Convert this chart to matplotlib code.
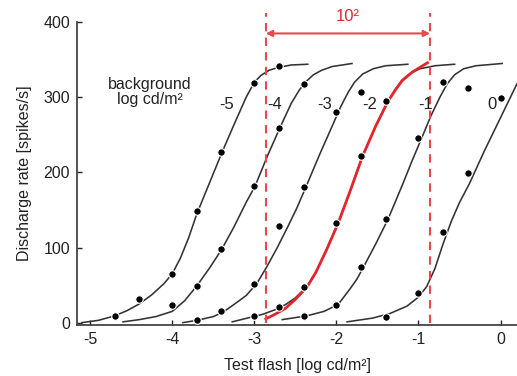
import matplotlib
matplotlib.use('Agg')
import matplotlib.pyplot as plt

# data (x: test flash log cd/m2, y: spikes/s)
bg_labels = ['-5', '-4', '-3', '-2', '-1', '0']
label_x = [-3.34, -2.75, -2.14, -1.59, -0.91, -0.11]
label_y = [290, 290, 290, 290, 290, 290]

# measured points
dot_x_m5 = [-4.70, -4.40, -4.00, -3.70, -3.40, -3.00, -2.70]
dot_y_m5 = [9, 31, 65, 149, 227, 319, 342]
dot_x_m4 = [-4.00, -3.70, -3.40, -3.00, -2.70, -2.40]
dot_y_m4 = [24, 49, 98, 182, 259, 318]
dot_x_m3 = [-3.70, -3.40, -3.00, -2.70, -2.40, -2.00, -1.70]
dot_y_m3 = [4, 15, 52, 128, 181, 280, 307]
dot_x_m2 = [-3.00, -2.70, -2.40, -2.00, -1.70, -1.40]
dot_y_m2 = [9, 21, 48, 133, 222, 295]
dot_x_m1 = [-2.40, -2.00, -1.70, -1.40, -1.00, -0.70, -0.40]
dot_y_m1 = [9, 23, 74, 138, 246, 320, 312]
dot_x_0 = [-1.40, -1.00, -0.70, -0.40, 0.00]
dot_y_0 = [8, 40, 121, 199, 299]

# fitted curves
fit_x_m5 = [-5.10, -4.90, -4.70, -4.55, -4.40, -4.25, -4.10, -4.00, -3.90, -3.80, -3.70,
            -3.55, -3.40, -3.25, -3.10, -3.00, -2.92, -2.82, -2.70, -2.55, -2.35]
fit_y_m5 = [0, 3, 9, 16, 25, 37, 52, 65, 86, 113, 145,
            185, 225, 263, 300, 320, 329, 336, 340, 343, 344]
fit_x_m4 = [-4.60, -4.40, -4.20, -4.00, -3.85, -3.70, -3.55, -3.40, -3.25, -3.10,
            -2.99, -2.84, -2.69, -2.55, -2.45, -2.37, -2.28, -2.18, -2.05, -1.81]
fit_y_m4 = [1, 4, 8, 15, 29, 49, 72, 97, 127, 160,
            182, 222, 259, 292, 310, 321, 330, 336, 341, 345]
fit_x_m3 = [-3.87, -3.70, -3.50, -3.38, -3.25, -3.10, -2.97, -2.85, -2.72, -2.60, -2.48,
            -2.37, -2.20, -2.05, -1.95, -1.86, -1.78, -1.68, -1.55, -1.40, -1.13]
fit_y_m3 = [0, 3, 8, 14, 24, 36, 52, 74, 100, 126, 153,
            181, 225, 262, 287, 306, 320, 331, 338, 342, 344]
fit_x_m2 = [-3.27, -3.05, -2.90, -2.75, -2.62, -2.50, -2.36, -2.25, -2.12, -1.98,
            -1.84, -1.68, -1.52, -1.37, -1.28, -1.20, -1.10, -0.98, -0.80, -0.56]
fit_y_m2 = [1, 7, 11, 17, 24, 33, 48, 67, 97, 133,
            173, 222, 262, 295, 311, 323, 332, 338, 342, 344]
fit_x_m1 = [-2.66, -2.36, -2.15, -1.98, -1.84, -1.75, -1.67, -1.52, -1.37, -1.19,
            -1.08, -0.96, -0.85, -0.74, -0.65, -0.56, -0.45, -0.30, 0.02]
fit_y_m1 = [4, 9, 15, 24, 44, 58, 74, 105, 138, 185,
            215, 246, 275, 300, 318, 330, 338, 342, 345]
fit_x_0 = [-1.87, -1.56, -1.35, -1.14, -1.00, -0.90, -0.80, -0.70, -0.60, -0.50,
           -0.38, -0.20, 0.00, 0.20]
fit_y_0 = [1, 6, 12, 22, 34, 48, 72, 105, 135, 160,
           185, 228, 273, 318]

# highlighted red curve (background -2)
red_x = [-2.86, -2.75, -2.62, -2.50, -2.36, -2.25, -2.12, -1.98, -1.84, -1.68,
         -1.52, -1.37, -1.28, -1.20, -1.07, -0.89]
red_y = [5, 11, 19, 31, 47, 67, 97, 132, 173, 222,
         262, 295, 310, 322, 334, 346]

# two-log-unit range marker
range_x = [-2.86, -0.86]

plt.rcParams['font.family'] = ['Liberation Sans', 'DejaVu Sans']

fig = plt.figure(figsize=(5.17, 3.76), dpi=100)
ax = fig.add_axes([0.149, 0.136, 0.851, 0.805])

line_col = '#333333'
red = '#e3262b'
red_dash = '#e8474b'

fits = [(fit_x_m5, fit_y_m5), (fit_x_m4, fit_y_m4), (fit_x_m3, fit_y_m3),
        (fit_x_m2, fit_y_m2), (fit_x_m1, fit_y_m1), (fit_x_0, fit_y_0)]
dots = [(dot_x_m5, dot_y_m5), (dot_x_m4, dot_y_m4), (dot_x_m3, dot_y_m3),
        (dot_x_m2, dot_y_m2), (dot_x_m1, dot_y_m1), (dot_x_0, dot_y_0)]

for fx, fy in fits:
    ax.plot(fx, fy, color=line_col, lw=1.15, solid_joinstyle='round', zorder=2)

ax.plot(red_x, red_y, color=red, lw=2.0, solid_joinstyle='round', zorder=3)

for dx, dy in dots:
    ax.plot(dx, dy, 'o', color='black', ms=5.4, mec='white', mew=0.8, zorder=4)

# dashed verticals and arrow
for xv in range_x:
    ax.plot([xv, xv], [0, 412], color=red_dash, lw=1.5, ls=(0, (4, 3)),
            clip_on=False, zorder=3)
ax.annotate('', xy=(range_x[0], 385), xytext=(range_x[1], 385),
            arrowprops=dict(arrowstyle='<|-|>', color=red_dash, lw=1.5,
                            mutation_scale=9, shrinkA=0, shrinkB=0),
            annotation_clip=False)
ax.text(sum(range_x) / 2, 407, '10²', color=red, fontsize=12,
        ha='center', va='center', clip_on=False)

for lab, lx, ly in zip(bg_labels, label_x, label_y):
    ax.text(lx, ly, lab, fontsize=12, ha='center', va='center', color='#222222')

ax.text(-4.27, 307, 'background\nlog cd/m²', fontsize=11.5, ha='center',
        va='center', color='#222222', linespacing=1.05)

# axes
ax.set_xlim(-5.16, 0.2)
ax.set_ylim(-3, 400)
ax.set_xticks([-5, -4, -3, -2, -1, 0])
ax.set_xticklabels(['-5', '-4', '-3', '-2', '-1', '0'])
ax.set_yticks([0, 100, 200, 300, 400])
ax.spines['top'].set_visible(False)
ax.spines['right'].set_visible(False)
for s in ['left', 'bottom']:
    ax.spines[s].set_linewidth(1.3)
    ax.spines[s].set_color('#444444')
ax.tick_params(direction='in', length=3.5, width=1.0, labelsize=11.5,
               colors='#222222', pad=5)
ax.set_xlabel('Test flash [log cd/m²]', fontsize=11.5, color='#222222', labelpad=8)
ax.set_ylabel('Discharge rate [spikes/s]', fontsize=11.5, color='#222222', labelpad=8)

plt.savefig('out.png', dpi=100)
